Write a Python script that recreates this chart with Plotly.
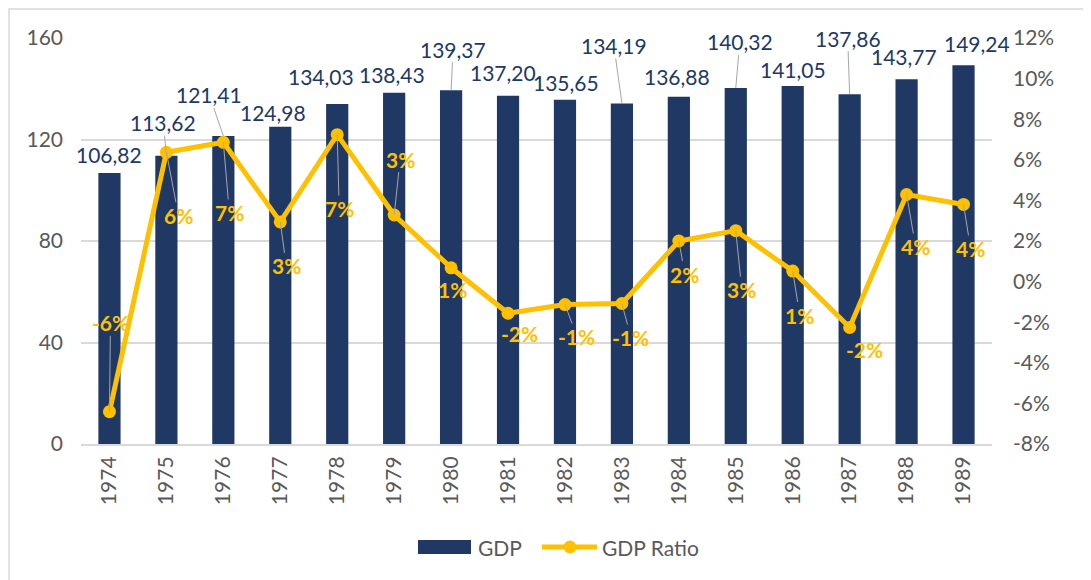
import plotly.graph_objects as go

# ---------------- data ----------------
years = ["1974", "1975", "1976", "1977", "1978", "1979", "1980", "1981",
         "1982", "1983", "1984", "1985", "1986", "1987", "1988", "1989"]
gdp = [106.82, 113.62, 121.41, 124.98, 134.03, 138.43, 139.37, 137.20,
       135.65, 134.19, 136.88, 140.32, 141.05, 137.86, 143.77, 149.24]
gdp_ratio = [-0.0641, 0.0637, 0.0686, 0.0294, 0.0724, 0.0328, 0.0068, -0.0156,
             -0.0113, -0.0108, 0.0200, 0.0251, 0.0052, -0.0226, 0.0429, 0.0380]
left_tickvals = [0, 40, 80, 120, 160]
right_tickvals = [-0.08, -0.06, -0.04, -0.02, 0.0, 0.02, 0.04, 0.06, 0.08, 0.10, 0.12]
right_ticktext = ["-8%", "-6%", "-4%", "-2%", "0%", "2%", "4%", "6%", "8%", "10%", "12%"]

# ---------------- styles / label placement (pixels) ----------------
NAVY = "#203864"
GOLD = "#FFC000"
GRAY_TXT = "#595959"
GRID = "#D9D9D9"
LEADER = "#A6A6A6"
FONT = "Lato"

# (dx, dy, leader) offsets of label centre from bar top
gdp_label_pos = [(0, -18, False), (-3, -33, True), (-14, -41, True), (-7, -14, False),
                 (-16, -27, False), (-2, -18, False), (2, -41, True), (-5, -23, False),
                 (1, -17, False), (-8, -58, True), (-2, -20, False), (4, -46, True),
                 (0, -17, False), (-2, -56, True), (-3, -23, False), (13, -22, False)]
# (dx, dy, leader) offsets of label centre from line point
ratio_label_pos = [(1, -89, True), (12, 63, True), (6, 70, True), (6, 44, True),
                   (2, 74, True), (6, -56, True), (1, 22, False), (11, 20, False),
                   (12, 32, True), (9, 34, True), (6, 33, True), (6, 59, True),
                   (7, 44, True), (15, 22, False), (9, 52, True), (7, 44, True)]

fig = go.Figure()
fig.add_trace(go.Bar(x=years, y=gdp, name="GDP", marker=dict(color=NAVY, line=dict(width=0)),
                     yaxis="y", showlegend=False))
fig.add_trace(go.Scatter(x=years, y=gdp_ratio, name="GDP Ratio", mode="lines+markers",
                         line=dict(color=GOLD, width=5), marker=dict(color=GOLD, size=13),
                         yaxis="y2", showlegend=False))

annotations = []
for i, (v, (dx, dy, lead)) in enumerate(zip(gdp, gdp_label_pos)):
    annotations.append(dict(
        x=i, y=v, xref="x", yref="y", text=f"{v:.2f}".replace(".", ","),
        showarrow=True, arrowhead=0, arrowwidth=1,
        arrowcolor=LEADER if lead else "rgba(0,0,0,0)",
        ax=dx, ay=dy, standoff=0, borderpad=0,
        font=dict(family=FONT, size=21, color=NAVY)))
for i, (v, (dx, dy, lead)) in enumerate(zip(gdp_ratio, ratio_label_pos)):
    annotations.append(dict(
        x=i, y=v, xref="x", yref="y2", text=f"{round(v * 100):.0f}%",
        showarrow=True, arrowhead=0, arrowwidth=1,
        arrowcolor=LEADER if lead else "rgba(0,0,0,0)",
        ax=dx, ay=dy, standoff=0, borderpad=0,
        font=dict(family=FONT, size=21, color=GOLD, weight="bold")))

# The page body adds an 8px offset; layout is expressed in screenshot pixels.
OFF = 8
W, H = 1091 - OFF, 580 - OFF
# plot area in screenshot pixels: x 81..992, y 38..444
PX0, PX1, PY0, PY1 = 81, 992, 38, 444


def px(xp):
    return (xp - PX0) / (PX1 - PX0)


def py(yp):
    return (PY1 - yp) / (PY1 - PY0)


# custom legend
annotations.append(dict(x=px(476), y=py(547), xref="paper", yref="paper", text="GDP",
                        showarrow=False, xanchor="left", yanchor="middle",
                        font=dict(family=FONT, size=21, color=GRAY_TXT)))
annotations.append(dict(x=px(600), y=py(547), xref="paper", yref="paper", text="GDP Ratio",
                        showarrow=False, xanchor="left", yanchor="middle",
                        font=dict(family=FONT, size=21, color=GRAY_TXT)))

shapes = [
    # chart-area border
    dict(type="rect", xref="paper", yref="paper", x0=px(9), x1=px(1200), y0=py(700), y1=py(9),
         line=dict(color=GRID, width=1.5), fillcolor="rgba(0,0,0,0)", layer="below"),
    # legend swatches
    dict(type="rect", xref="paper", yref="paper", x0=px(418), x1=px(471), y0=py(554), y1=py(540),
         line=dict(width=0), fillcolor=NAVY),
    dict(type="line", xref="paper", yref="paper", x0=px(542), x1=px(597), y0=py(547), y1=py(547),
         line=dict(color=GOLD, width=5)),
    dict(type="circle", xref="paper", yref="paper", x0=px(563.5), x1=px(576.5), y0=py(553.5), y1=py(540.5),
         line=dict(width=0), fillcolor=GOLD),
]

fig.update_layout(
    width=W, height=H,
    margin=dict(l=PX0 - OFF, r=1091 - PX1, t=PY0 - OFF, b=580 - PY1, autoexpand=False),
    paper_bgcolor="white", plot_bgcolor="white",
    font=dict(family=FONT, size=21, color=GRAY_TXT),
    bargap=0.61,
    showlegend=False,
    xaxis=dict(type="category", range=[-0.5, len(years) - 0.5], autorange=False,
               tickangle=-90, showgrid=False, showline=True, automargin=False,
               linecolor=GRID, linewidth=2, ticks="", ticklabelstandoff=2,
               tickfont=dict(family=FONT, size=21, color=GRAY_TXT)),
    yaxis=dict(range=[0, 160], autorange=False, tickvals=left_tickvals, showgrid=True,
               gridcolor=GRID, gridwidth=2, zeroline=False, showline=False, ticks="",
               automargin=False, ticklabelstandoff=17,
               tickfont=dict(family=FONT, size=21, color=GRAY_TXT)),
    yaxis2=dict(range=[-0.08, 0.12], autorange=False, tickvals=right_tickvals,
                ticktext=right_ticktext, overlaying="y", side="right", showgrid=False,
                zeroline=False, showline=False, ticks="", ticklabelstandoff=20,
                automargin=False, tickfont=dict(family=FONT, size=21, color=GRAY_TXT)),
    annotations=annotations,
    shapes=shapes,
)

fig.write_html("out.html")
